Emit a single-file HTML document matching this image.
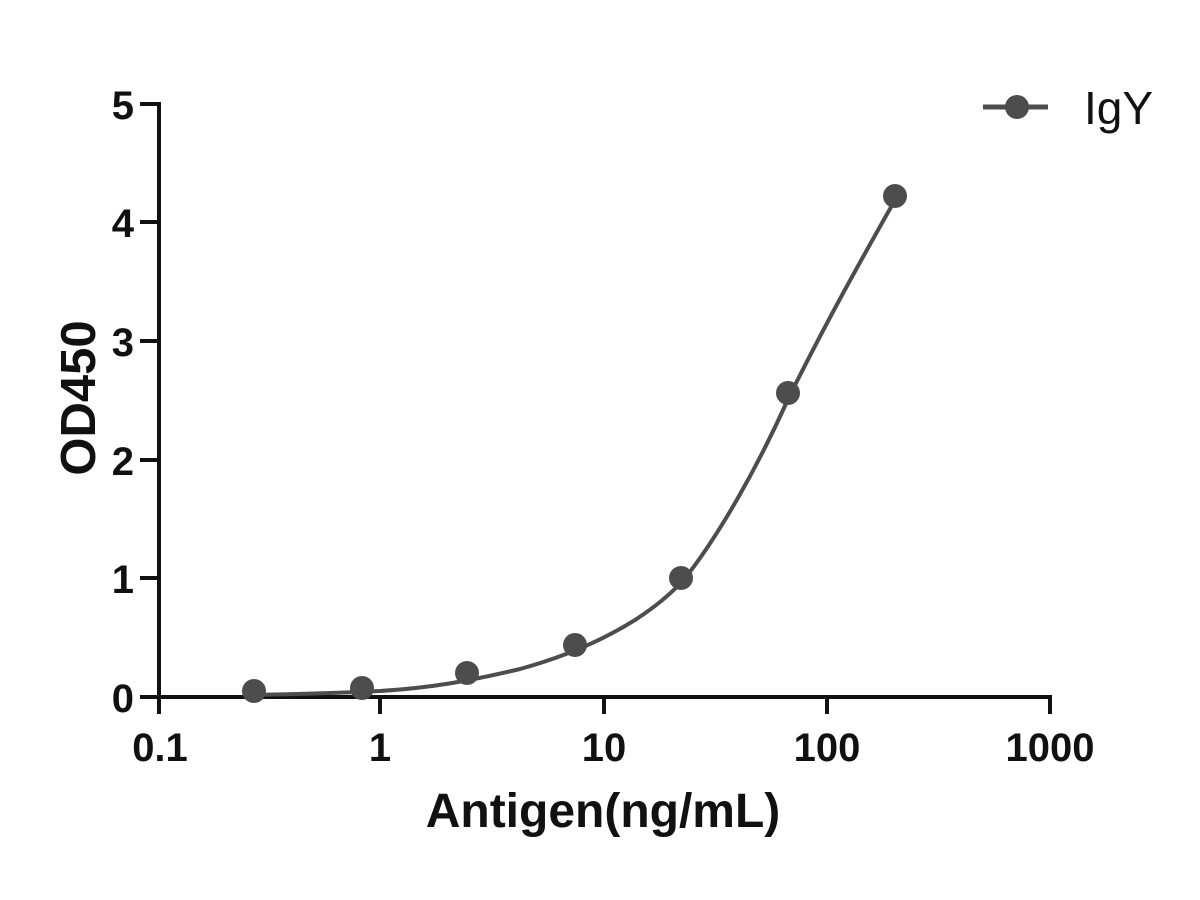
<!DOCTYPE html>
<html><head><style>body{margin:0;background:#fff}svg{display:block}</style></head><body>
<svg width="1200" height="900" xmlns="http://www.w3.org/2000/svg" font-family="Liberation Sans, sans-serif">
<rect width="1200" height="900" fill="#fff"/>
<g stroke="#111" stroke-width="4" fill="none">
<line x1="159" y1="102" x2="159" y2="714"/>
<line x1="157" y1="697" x2="1052" y2="697"/>
<line x1="140" y1="104" x2="159" y2="104"/>
<line x1="140" y1="222" x2="159" y2="222"/>
<line x1="140" y1="341" x2="159" y2="341"/>
<line x1="140" y1="460" x2="159" y2="460"/>
<line x1="140" y1="578" x2="159" y2="578"/>
<line x1="140" y1="697" x2="159" y2="697"/>
<line x1="380" y1="697" x2="380" y2="714"/>
<line x1="604" y1="697" x2="604" y2="714"/>
<line x1="827" y1="697" x2="827" y2="714"/>
<line x1="1050" y1="697" x2="1050" y2="714"/>
</g>
<g font-size="40" font-weight="bold" fill="#111" text-anchor="end">
<text x="134" y="119">5</text><text x="134" y="237">4</text><text x="134" y="356">3</text>
<text x="134" y="475">2</text><text x="134" y="593">1</text><text x="134" y="712">0</text>
</g>
<g font-size="40" font-weight="bold" fill="#111" text-anchor="middle">
<text x="160" y="761">0.1</text><text x="380" y="761">1</text><text x="604" y="761">10</text>
<text x="827" y="761">100</text><text x="1050" y="761">1000</text>
</g>
<text x="603" y="827" font-size="48" font-weight="bold" fill="#111" text-anchor="middle">Antigen(ng/mL)</text>
<text transform="translate(95 398) rotate(-90)" font-size="49" font-weight="bold" fill="#111" text-anchor="middle">OD450</text>
<path d="M254,695 C300,694 340,693 380,691 C430,688 470,681 520,669 C560,658 600,642 635,620 C655,607 668,596 682,582 C720,535 760,462 789,397 C830,315 860,262 895,200" stroke="#4d4d4d" stroke-width="4" fill="none"/>
<g fill="#4d4d4d">
<circle cx="254" cy="691" r="12"/><circle cx="362" cy="688" r="12"/><circle cx="467" cy="673" r="12"/>
<circle cx="575" cy="645" r="12"/><circle cx="681" cy="578" r="12"/><circle cx="788" cy="393" r="12"/>
<circle cx="895" cy="196" r="12"/>
</g>
<line x1="983" y1="107" x2="1048" y2="107" stroke="#4d4d4d" stroke-width="5"/>
<circle cx="1017" cy="107" r="12" fill="#4d4d4d"/>
<text x="1084" y="124" font-size="46" fill="#111">IgY</text>
</svg>
</body></html>
